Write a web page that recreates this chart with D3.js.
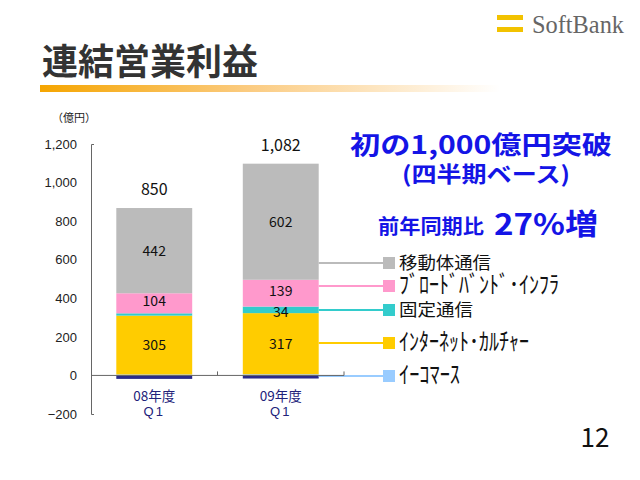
<!DOCTYPE html>
<html>
<head>
<meta charset="utf-8">
<script src="https://cdn.jsdelivr.net/npm/d3@7"></script>
<style>
  body { margin: 0; background: #fff; }
  svg { display: block; font-family: "Noto Sans CJK JP", "Noto Sans", sans-serif; }
</style>
</head>
<body>
<div id="chart"></div>
<script>
var width = 640,
    height = 480;

// data (億円)
var categories = ["08年度", "09年度"];
var quarter = "Q1";
var seriesNames = ["イーコマース", "インターネット・カルチャー", "固定通信", "ブロードバンド・インフラ", "移動体通信", "その他"];
var legendLabels = ["ｲｰｺﾏｰｽ", "ｲﾝﾀｰﾈｯﾄ･ｶﾙﾁｬｰ", "固定通信", "ﾌﾞﾛｰﾄﾞﾊﾞﾝﾄﾞ･ｲﾝﾌﾗ", "移動体通信"];
var ecommerce = [5, 6];
var internet = [305, 317];
var fixedLine = [12, 34];
var broadband = [104, 139];
var mobile = [442, 602];
var other = [-18, -16];
var totals = [850, 1082];
var yTicks = [-200, 0, 200, 400, 600, 800, 1000, 1200];

var colors = ["#99ccff", "#ffcc00", "#33cccc", "#ff99cc", "#bbbbbb", "#2a2a8a"];

var rows = categories.map(function(c, i) {
  return {
    cat: c,
    "イーコマース": ecommerce[i],
    "インターネット・カルチャー": internet[i],
    "固定通信": fixedLine[i],
    "ブロードバンド・インフラ": broadband[i],
    "移動体通信": mobile[i],
    "その他": other[i]
  };
});

var svg = d3.select("#chart").append("svg")
  .attr("width", width)
  .attr("height", height);

// ---- header
var defs = svg.append("defs");
var grad = defs.append("linearGradient").attr("id", "uline");
grad.append("stop").attr("offset", "0%").attr("stop-color", "#f5a500");
grad.append("stop").attr("offset", "45%").attr("stop-color", "#fbcb80");
grad.append("stop").attr("offset", "100%").attr("stop-color", "#ffffff");

svg.append("rect").attr("x", 497).attr("y", 15).attr("width", 26).attr("height", 5).attr("fill", "#f2c200");
svg.append("rect").attr("x", 497).attr("y", 27).attr("width", 26).attr("height", 5).attr("fill", "#f2c200");
svg.append("text")
  .attr("x", 532).attr("y", 33)
  .attr("font-family", "Liberation Serif, serif")
  .attr("font-size", 26)
  .attr("textLength", 92)
  .attr("lengthAdjust", "spacingAndGlyphs")
  .attr("fill", "#666")
  .text("SoftBank");

svg.append("text")
  .attr("x", 42).attr("y", 75)
  .attr("font-size", 36)
  .attr("font-weight", "bold")
  .attr("fill", "#333")
  .text("連結営業利益");

svg.append("rect").attr("x", 40).attr("y", 85).attr("width", 460).attr("height", 7).attr("fill", "url(#uline)");

svg.append("text")
  .attr("x", 52).attr("y", 122)
  .attr("font-size", 11)
  .attr("fill", "#222")
  .text("（億円）");

// ---- chart
var x = d3.scaleBand()
  .domain(categories)
  .range([91, 344])
  .paddingInner(0.4)
  .paddingOuter(0.2);

var y = d3.scaleLinear()
  .domain([-200, 1200])
  .range([414, 144]);

var stack = d3.stack()
  .keys(seriesNames)
  .offset(d3.stackOffsetDiverging);
var layers = stack(rows);

var g = svg.append("g");

g.selectAll("g.layer")
  .data(layers)
  .enter().append("g")
  .attr("class", "layer")
  .attr("fill", function(d, i) { return colors[i]; })
  .selectAll("rect")
  .data(function(d) { return d; })
  .enter().append("rect")
  .attr("x", function(d) { return x(d.data.cat); })
  .attr("width", x.bandwidth())
  .attr("y", function(d) { return y(Math.max(d[0], d[1])); })
  .attr("height", function(d) { return Math.abs(y(d[0]) - y(d[1])); });

// value labels inside segments
layers.forEach(function(layer, li) {
  if (seriesNames[li] === "その他" || seriesNames[li] === "イーコマース") return;
  layer.forEach(function(d) {
    var v = d[1] - d[0];
    if (v < 20) return;
    var nudge = 0;
    if (v < 60) nudge = 2;            // thin band: push down a bit
    else if (v < 200 && li === 3) nudge = -2;
    g.append("text")
      .attr("x", x(d.data.cat) + x.bandwidth() / 2)
      .attr("y", y((d[0] + d[1]) / 2) + nudge)
      .attr("dy", "0.35em")
      .attr("text-anchor", "middle")
      .attr("font-size", 14)
      .attr("fill", "#111")
      .text(d3.format(",")(v));
  });
});

// totals above bars
categories.forEach(function(c, i) {
  var top = d3.max(layers, function(l) { return l[i][1]; });
  g.append("text")
    .attr("x", x(c) + x.bandwidth() / 2)
    .attr("y", y(top) - 13)
    .attr("text-anchor", "middle")
    .attr("font-size", 16)
    .attr("fill", "#111")
    .text(d3.format(",")(totals[i]));
});

// legend with leader lines
var legendY = [376, 343, 310, 286, 263];
var legendW = [61, 130, 74, 160, 92];
var legendFs = [24, 24, 17, 24, 17];   // half-width kana need a bigger size to look full height
var lastCat = categories[categories.length - 1];
var barRight = x(lastCat) + x.bandwidth();
legendLabels.forEach(function(lbl, i) {
  svg.append("line")
    .attr("x1", barRight).attr("x2", 384)
    .attr("y1", legendY[i]).attr("y2", legendY[i])
    .attr("stroke", colors[i])
    .attr("stroke-width", 2);
  svg.append("rect")
    .attr("x", 383).attr("y", legendY[i] - 6)
    .attr("width", 12).attr("height", 12)
    .attr("fill", colors[i]);
  svg.append("text")
    .attr("x", 399).attr("y", legendY[i] + (legendFs[i] > 20 ? 7 : 6))
    .attr("font-size", legendFs[i])
    .attr("textLength", legendW[i])
    .attr("lengthAdjust", "spacingAndGlyphs")
    .attr("fill", "#111")
    .text(lbl);
});

// y axis
var yAxis = d3.axisLeft(y)
  .tickValues(yTicks)
  .tickFormat(d3.format(","))
  .tickSizeInner(0)
  .tickSizeOuter(-3)
  .tickPadding(14);

var ya = svg.append("g")
  .attr("transform", "translate(91,0)")
  .call(yAxis);
ya.select(".domain").attr("stroke", "#666");
ya.selectAll("text").attr("font-size", 13).attr("fill", "#222")
  .attr("font-family", "Liberation Sans, Arial, sans-serif");

// x axis line at zero with category boundary ticks
var step = x.step();
var bounds = categories.map(function(c) {
  return x(c) + x.bandwidth() + (step - x.bandwidth()) / 2;
});
svg.append("line")
  .attr("x1", 91).attr("x2", bounds[bounds.length - 1])
  .attr("y1", y(0)).attr("y2", y(0))
  .attr("stroke", "#666").attr("stroke-width", 1);
bounds.forEach(function(b) {
  svg.append("line")
    .attr("x1", b).attr("x2", b)
    .attr("y1", y(0)).attr("y2", y(0) - 4)
    .attr("stroke", "#666");
});

// category labels (two lines)
categories.forEach(function(c) {
  var cx = x(c) + x.bandwidth() / 2;
  svg.append("text")
    .attr("x", cx).attr("y", 401)
    .attr("text-anchor", "middle")
    .attr("font-size", 13.5)
    .attr("fill", "#22227a")
    .text(c);
  svg.append("text")
    .attr("x", cx).attr("y", 416)
    .attr("text-anchor", "middle")
    .attr("font-size", 13)
    .attr("font-family", "Liberation Sans, Arial, sans-serif")
    .attr("letter-spacing", 2)
    .attr("fill", "#22227a")
    .text(quarter);
});

// headline
svg.append("text")
  .attr("x", 350).attr("y", 154)
  .attr("font-size", 25)
  .attr("font-weight", "bold")
  .attr("fill", "#1414e6")
  .attr("textLength", 262)
  .attr("lengthAdjust", "spacingAndGlyphs")
  .text("初の1,000億円突破");
svg.append("text")
  .attr("x", 402).attr("y", 182)
  .attr("font-size", 22)
  .attr("font-weight", "bold")
  .attr("fill", "#1414e6")
  .attr("textLength", 168)
  .attr("lengthAdjust", "spacingAndGlyphs")
  .text("(四半期ベース)");
svg.append("text")
  .attr("x", 378).attr("y", 234)
  .attr("font-size", 20)
  .attr("font-weight", "bold")
  .attr("fill", "#1414e6")
  .attr("textLength", 106)
  .attr("lengthAdjust", "spacingAndGlyphs")
  .text("前年同期比");
svg.append("text")
  .attr("x", 494).attr("y", 235)
  .attr("font-size", 29)
  .attr("font-weight", "bold")
  .attr("fill", "#1414e6")
  .attr("textLength", 104)
  .attr("lengthAdjust", "spacingAndGlyphs")
  .text("27%増");

// page number
svg.append("text")
  .attr("x", 595).attr("y", 447)
  .attr("text-anchor", "middle")
  .attr("font-size", 26)
  .attr("fill", "#111")
  .text("12");
</script>
</body>
</html>
